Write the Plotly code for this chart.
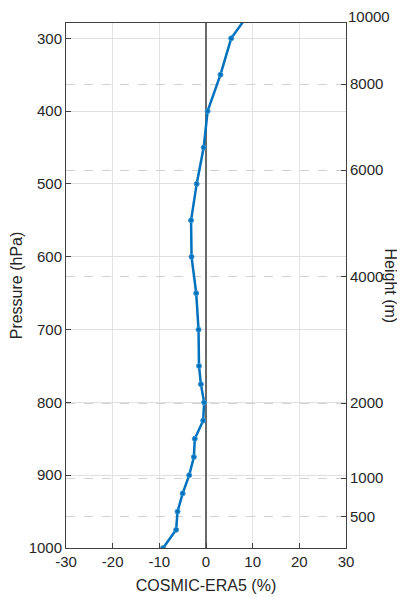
import plotly.graph_objects as go

# Data
pressure = [250, 300, 350, 400, 450, 500, 550, 600, 650, 700, 750, 775, 800, 825, 850, 875, 900, 925, 950, 975, 1000]
diff_pct = [11.0, 5.4, 3.1, 0.35, -0.5, -2.0, -3.2, -3.1, -2.1, -1.6, -1.5, -1.1, -0.4, -0.6, -2.4, -2.6, -3.6, -5.0, -6.1, -6.4, -9.2]

pressure_ticks = [300, 400, 500, 600, 700, 800, 900, 1000]
x_ticks = [-30, -20, -10, 0, 10, 20, 30]

height_labels = ["500", "1000", "2000", "4000", "6000", "8000"]
height_pressures = [957, 904, 801, 627, 481, 363]
top_height_label = "10000"

p_range = [1000, 279]
BLUE = "#0072BD"
AX = "#404040"
FONT = "Liberation Sans, Arial, sans-serif"

fig = go.Figure()
fig.add_trace(go.Scatter(
    x=diff_pct, y=pressure, mode="lines+markers",
    line=dict(color=BLUE, width=2.5),
    marker=dict(color=BLUE, size=5, symbol="circle",
                line=dict(color="#3d97d3", width=1)),
    showlegend=False, cliponaxis=True,
))
fig.add_trace(go.Scatter(x=[None], y=[None], yaxis="y2", showlegend=False, hoverinfo="skip"))

# page body has an 8px default margin, so the figure is sized to fit the window
fig.update_layout(
    width=397, height=589,
    margin=dict(l=58, r=59, t=15, b=49, autoexpand=False),
    paper_bgcolor="white", plot_bgcolor="white",
    font=dict(family=FONT, size=15, color="#262626"),
    xaxis=dict(
        range=[-30, 30], tickvals=x_ticks, ticktext=[str(v) for v in x_ticks],
        showgrid=True, gridcolor="#e3e3e3", gridwidth=1,
        zeroline=True, zerolinecolor="#6a6a6a", zerolinewidth=1.5,
        showline=True, linecolor=AX, linewidth=1, mirror=True,
        ticks="inside", ticklen=5, tickcolor=AX, automargin=False,
        title=dict(text="COSMIC-ERA5 (%)", font=dict(size=16), standoff=10),
    ),
    yaxis=dict(
        range=p_range, tickvals=pressure_ticks,
        showgrid=True, gridcolor="#e0e0e0", gridwidth=1,
        zeroline=False,
        showline=True, linecolor=AX, linewidth=1,
        ticks="inside", ticklen=5, tickcolor=AX, automargin=False,
        title=dict(text="Pressure (hPa)", font=dict(size=16), standoff=4),
    ),
    yaxis2=dict(
        overlaying="y", side="right", range=p_range,
        tickvals=height_pressures, ticktext=height_labels,
        showgrid=True, gridcolor="#d2d2d2", griddash="dash", gridwidth=1,
        zeroline=False,
        showline=True, linecolor=AX, linewidth=1,
        ticks="inside", ticklen=5, tickcolor=AX, automargin=False,
    ),
    annotations=[
        dict(text=top_height_label, xref="paper", yref="paper", x=1.0, y=1.0,
             xanchor="left", yanchor="middle", yshift=7, xshift=0,
             showarrow=False, font=dict(size=15, color="#262626")),
        dict(text="Height (m)", xref="paper", yref="paper", x=1.0, y=0.5,
             xanchor="center", yanchor="middle", xshift=44, textangle=90,
             showarrow=False, font=dict(size=16, color="#262626")),
    ],
)

fig.write_html("out.html")
